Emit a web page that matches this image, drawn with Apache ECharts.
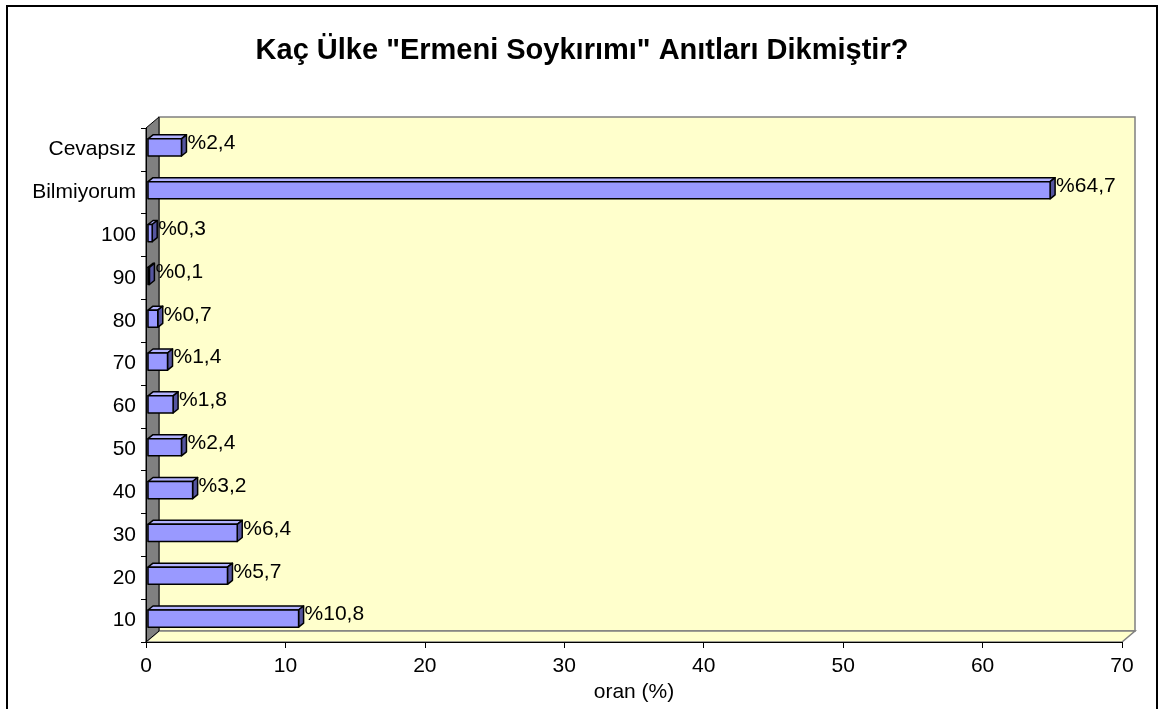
<!DOCTYPE html>
<html>
<head>
<meta charset="utf-8">
<script src="https://cdn.jsdelivr.net/npm/echarts@6/dist/echarts.min.js"></script>
<style>
  html, body { margin: 0; padding: 0; background: #fff; }
  #chart { width: 1164px; height: 709px; }
</style>
</head>
<body>
<div id="chart"></div>
<script>
// veriler (alttan üste)
var categories = ['10', '20', '30', '40', '50', '60', '70', '80', '90', '100', 'Bilmiyorum', 'Cevapsız'];
var values = [10.8, 5.7, 6.4, 3.2, 2.4, 1.8, 1.4, 0.7, 0.1, 0.3, 64.7, 2.4];
var xTicks = [0, 10, 20, 30, 40, 50, 60, 70];

var myChart = echarts.init(document.getElementById('chart'));

// grid kenarları (ön düzlem)
var L = 146, R = 1122, T = 128, B = 642;
// arka duvar kayması
var DX = 13, DY = 11;
var font = 'Arial, "Liberation Sans", sans-serif';

var seriesData = values.map(function (v, i) { return [v, i]; });

function renderBar(params, api) {
    var v = api.value(0), c = api.value(1);
    var p0 = api.coord([0, c]);
    var p1 = api.coord([v, c]);
    var band = api.size([0, 1])[1];
    var h = band * 0.4;
    var x = p0[0] + 2, w = p1[0] - p0[0];
    var y = p0[1] - 2 - h / 2;
    var dx = 5, dy = 4;
    var line = { stroke: '#000', lineWidth: 1.5, lineJoin: 'round' };
    return {
        type: 'group',
        children: [
            { type: 'polygon', shape: { points: [[x, y], [x + dx, y - dy], [x + w + dx, y - dy], [x + w, y]] },
              style: Object.assign({ fill: '#B3B3FF' }, line) },
            { type: 'polygon', shape: { points: [[x + w, y], [x + w + dx, y - dy], [x + w + dx, y + h - dy], [x + w, y + h]] },
              style: Object.assign({ fill: '#55559F' }, line) },
            { type: 'rect', shape: { x: x, y: y, width: w, height: h },
              style: Object.assign({ fill: '#9999FF' }, line) },
            { type: 'text', x: x + w + dx + 1, y: y + h / 2 - 4,
              style: { text: '%' + String(v).replace('.', ','), fill: '#000', font: '21px ' + font,
                       textAlign: 'left', textVerticalAlign: 'middle' } }
        ]
    };
}

var option = {
    backgroundColor: '#fff',
    animation: false,
    title: {
        text: 'Kaç Ülke "Ermeni Soykırımı" Anıtları Dikmiştir?',
        left: 'center',
        top: 31,
        textStyle: { fontFamily: font, fontSize: 29, fontWeight: 'bold', color: '#000' }
    },
    grid: { left: L, right: 1164 - R, top: T, bottom: 709 - B },
    graphic: [
        { type: 'rect', z: 0, shape: { x: 7, y: 6, width: 1150, height: 712 },
          style: { fill: 'none', stroke: '#000', lineWidth: 2 } },
        { type: 'rect', z: 0, shape: { x: L + DX, y: T - DY, width: R - L, height: B - T },
          style: { fill: '#FFFFCC', stroke: '#808080', lineWidth: 1.5 } },
        { type: 'polygon', z: 0, shape: { points: [[L, B], [L + DX, B - DY], [R + DX, B - DY], [R, B]] },
          style: { fill: '#FFFFCC', stroke: '#808080', lineWidth: 1.5 } },
        { type: 'polygon', z: 0, shape: { points: [[L, T], [L + DX, T - DY], [L + DX, B - DY], [L, B]] },
          style: { fill: '#808080', stroke: '#000', lineWidth: 1 } }
    ],
    xAxis: {
        type: 'value',
        min: 0, max: 70, interval: 10,
        z: 5,
        name: 'oran (%)',
        nameLocation: 'middle',
        nameGap: 38,
        nameTextStyle: { fontFamily: font, fontSize: 21, color: '#000' },
        axisLine: { show: true, lineStyle: { color: '#000', width: 1 } },
        axisTick: { show: true, length: 6, lineStyle: { color: '#000' } },
        axisLabel: { fontFamily: font, fontSize: 21, color: '#000', margin: 14,
                     formatter: function (v) { return xTicks.indexOf(v) >= 0 ? String(v) : ''; } },
        splitLine: { show: false }
    },
    yAxis: {
        type: 'category',
        data: categories,
        z: 5,
        axisLine: { show: true, lineStyle: { color: '#000', width: 1 } },
        axisTick: { show: true, length: 5, lineStyle: { color: '#000' } },
        axisLabel: { fontFamily: font, fontSize: 21, color: '#000', margin: 10 },
        splitLine: { show: false }
    },
    series: [{
        type: 'custom',
        renderItem: renderBar,
        encode: { x: 0, y: 1 },
        data: seriesData,
        z: 10
    }]
};

myChart.setOption(option);
</script>
</body>
</html>
